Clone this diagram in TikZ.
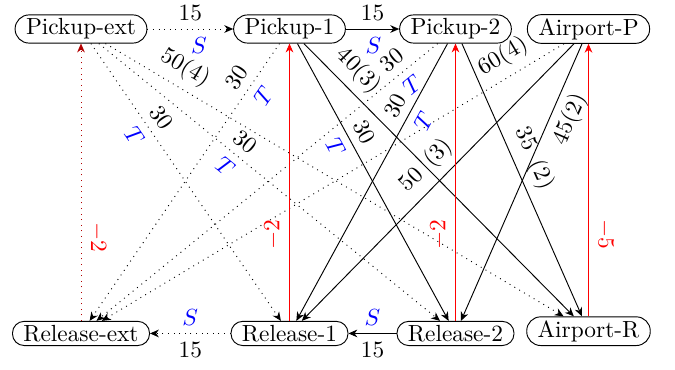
\documentclass[tikz,border=0pt]{standalone}
\usetikzlibrary{arrows.meta}
\begin{document}
\begin{tikzpicture}[x=0.42857pt,y=-0.42857pt,
  box/.style={draw, rounded corners=6pt, inner xsep=4.7pt, inner ysep=1.6pt},
  boxlow/.style={box, rounded corners=5pt},
  tip/.style={-{Stealth[length=3.8pt,width=3.3pt,inset=1.2pt]}},
  blu/.style={text=blue},
  redlab/.style={text=red}]
\useasboundingbox (0,0) rectangle (675,370);
% nodes
\node[box] (pe) at (81,29) {Pickup-ext};
\node[box] (p1) at (289.5,29) {Pickup-1};
\node[box] (p2) at (455.5,29) {Pickup-2};
\node[box] (ap) at (588.5,29) {Airport-P};
\node[boxlow, anchor=south] (re) at (81,346) {Release-ext};
\node[boxlow, anchor=south] (r1) at (289.5,346) {Release-1};
\node[boxlow, anchor=south] (r2) at (455.5,346) {Release-2};
\node[box, anchor=south] (ar) at (588.5,346) {Airport-R};
% horizontal edges
\draw[tip, dotted] (pe) -- node[above]{15} node[pos=0.6, below, blu]{$S$} (p1);
\draw[tip] (p1) -- node[above]{15} node[pos=0.52, below, blu]{$S$} (p2);
\draw[tip, dotted] (r1) -- node[below]{15} node[above, blu]{$S$} (re);
\draw[tip] (r2) -- node[below]{15} node[above, blu]{$S$} (r1);
% dotted from Pickup-ext
\draw[tip, dotted] (pe) -- node[pos=0.30, sloped, above]{30} node[pos=0.30, sloped, below, blu]{$T$} (r1);
\draw[tip, dotted] (pe) -- node[pos=0.40, sloped, above]{30} node[pos=0.40, sloped, below, blu]{$T$} (r2);
\draw[tip, dotted] (pe) -- node[pos=0.152, sloped, above]{50(4)} (ar);
% dotted to Release-ext
\draw[tip, dotted] (p1) -- node[pos=0.155, sloped, above]{30} node[pos=0.155, sloped, below, blu]{$T$} (re);
\draw[tip, dotted] (p2) -- node[pos=0.105, sloped, above]{30} node[pos=0.105, sloped, below, blu]{$T$} (re);
\draw[tip, dotted] (ap) -- node[pos=0.109, sloped, above]{60(4)} (re);
% solid diagonals
\draw[tip] (p1) -- node[pos=0.347, sloped, above]{30} node[pos=0.347, sloped, below, blu]{$T$} (r2);
\draw[tip] (p1) -- node[pos=0.151, sloped, above]{40(3)} (ar);
\draw[tip] (p2) -- node[pos=0.252, sloped, above]{30} node[pos=0.252, sloped, below, blu]{$T$} (r1);
\draw[tip] (p2) -- node[pos=0.45, sloped, above]{35\enspace(2)} (ar);
\draw[tip] (ap) -- node[pos=0.49, sloped, above]{50\enspace(3)} (r1);
\draw[tip] (ap) -- node[pos=0.245, sloped, below]{45(2)} (r2);
% red vertical edges
\draw[tip, dotted, draw=red!70!black] (re) -- node[pos=0.30, rotate=-90, anchor=south, redlab]{$-2$} (pe);
\draw[tip, red] (r1) -- node[pos=0.31, rotate=90, anchor=south]{$-2$} (p1);
\draw[tip, red] (r2) -- node[pos=0.31, rotate=90, anchor=south]{$-2$} (p2);
\draw[tip, red] (ar) -- node[pos=0.30, rotate=-90, anchor=south]{$-5$} (ap);
\end{tikzpicture}
\end{document}
